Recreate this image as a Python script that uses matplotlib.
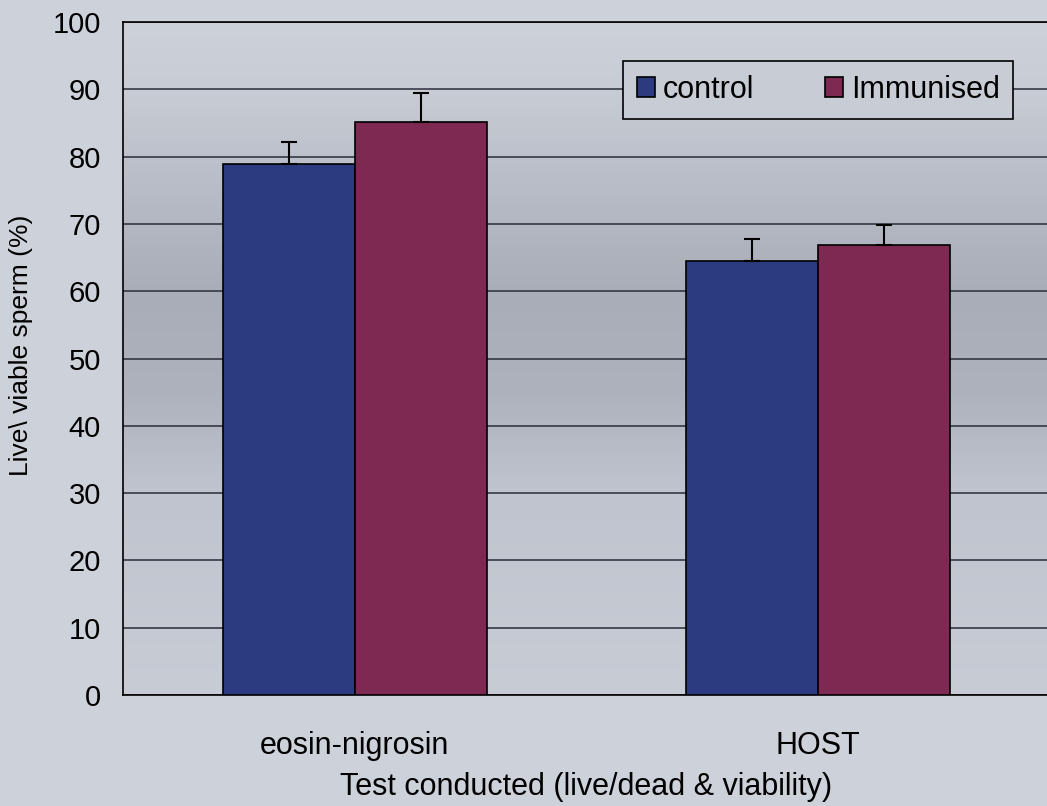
import numpy as np
import matplotlib
matplotlib.use('Agg')
import matplotlib.pyplot as plt
from matplotlib.colors import LinearSegmentedColormap

# ==========================================
# DATA
# ==========================================
categories = ['eosin-nigrosin', 'HOST']
series_names = ['control', 'Immunised']
control_means = [78.9, 64.5]
control_err = [3.3, 3.3]
immunised_means = [85.1, 66.9]
immunised_err = [4.3, 2.9]

# ==========================================
# STYLE
# ==========================================
plt.rcParams['font.family'] = ['Liberation Sans', 'DejaVu Sans']
BG = '#cdd1da'
BLUE = '#2c3b7f'
MAROON = '#7d2951'

fig = plt.figure(figsize=(10.47, 8.06), dpi=100, facecolor=BG)
ax = fig.add_axes([0.1175, 0.1377, 0.885, 0.835])
ax.set_facecolor(BG)

# scanned-page shading behind the plot area (darker band in the middle)
shade = LinearSegmentedColormap.from_list(
    'shade', [(0.0, '#c8ccd5'), (0.3, '#c0c4ce'), (0.45, '#aeb2bc'),
              (0.6, '#a9adb7'), (0.75, '#b8bcc6'), (0.9, '#c8ccd5'),
              (1.0, '#cdd1da')])
ax.imshow(np.linspace(0, 1, 256).reshape(-1, 1), cmap=shade, aspect='auto',
          extent=(-0.5, 1.5, 0, 100), origin='lower', zorder=0)

x = np.arange(len(categories))
width = 0.285

ax.bar(x - width / 2, control_means, width, color=BLUE, edgecolor='black',
       linewidth=1.2, label=series_names[0], zorder=3)
ax.bar(x + width / 2, immunised_means, width, color=MAROON, edgecolor='black',
       linewidth=1.2, label=series_names[1], zorder=3)

# plus-only error bars
ax.errorbar(x - width / 2, control_means, yerr=[np.zeros(len(x)), control_err],
            fmt='none', ecolor='black', elinewidth=1.5, capsize=6, capthick=1.5, zorder=4)
ax.errorbar(x + width / 2, immunised_means, yerr=[np.zeros(len(x)), immunised_err],
            fmt='none', ecolor='black', elinewidth=1.5, capsize=6, capthick=1.5, zorder=4)

ax.set_xlim(-0.5, 1.5)
ax.set_ylim(0, 100)
ax.set_yticks(np.arange(0, 101, 10))
ax.set_xticks(x)
ax.set_xticklabels(categories)
ax.tick_params(axis='y', length=0, pad=16, labelsize=21)
ax.tick_params(axis='x', length=0, pad=26, labelsize=22)

ax.yaxis.grid(True, color='#2a2d3a', linewidth=1.1, zorder=1)
ax.set_axisbelow(True)
for side in ['left', 'top', 'bottom']:
    ax.spines[side].set_color('black')
    ax.spines[side].set_linewidth(1.2)
ax.spines['right'].set_visible(False)

ax.set_ylabel('Live\\ viable sperm (%)', fontsize=19)
ax.yaxis.set_label_coords(-0.097, 0.52)
ax.set_xlabel('Test conducted (live/dead & viability)', fontsize=22)
ax.xaxis.set_label_coords(0.5, -0.114)

leg = ax.legend(loc='upper right', bbox_to_anchor=(0.961, 0.942), ncol=2,
                fontsize=22, frameon=True, fancybox=False, handlelength=0.6,
                handleheight=0.6, handletextpad=0.26, columnspacing=2.3,
                borderpad=0.45, borderaxespad=0)
leg.get_frame().set_edgecolor('black')
leg.get_frame().set_facecolor('#c8ccd5')
leg.get_frame().set_alpha(1)
leg.get_frame().set_linewidth(1.2)
leg.set_zorder(5)

plt.savefig('out.png', dpi=100, facecolor=BG)
